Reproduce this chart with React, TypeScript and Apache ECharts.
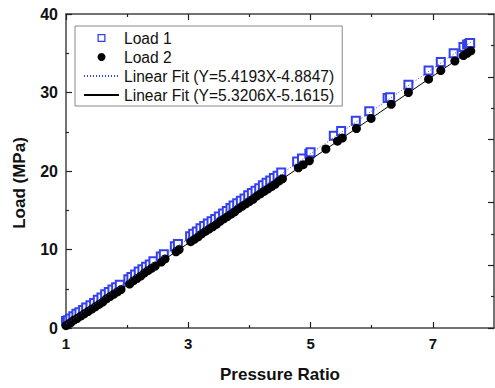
import React, { useEffect, useRef } from "react";
import * as echarts from "echarts";

const load1X = [1.00,1.03,1.07,1.12,1.17,1.22,1.28,1.33,1.40,1.46,1.52,1.58,1.64,1.70,1.76,1.82,1.88,2.02,2.07,2.13,2.19,2.25,2.31,2.37,2.43,2.55,2.60,2.78,2.83,3.03,3.08,3.14,3.20,3.26,3.32,3.38,3.44,3.50,3.57,3.63,3.69,3.74,3.80,3.86,3.92,3.98,4.04,4.10,4.16,4.22,4.28,4.34,4.40,4.46,4.52,4.78,4.86,4.98,5.00,5.38,5.50,5.74,5.96,6.26,6.30,6.60,6.93,7.13,7.34,7.50,7.56,7.59,7.61];
const load1Y = [0.9,1.0,1.2,1.5,1.8,2.0,2.3,2.6,2.9,3.2,3.6,3.9,4.3,4.6,4.9,5.2,5.5,6.2,6.5,6.8,7.2,7.5,7.8,8.1,8.5,9.1,9.4,10.4,10.7,11.7,12.0,12.3,12.7,13.0,13.3,13.6,13.9,14.2,14.6,14.9,15.3,15.6,15.9,16.2,16.5,16.9,17.2,17.5,17.8,18.2,18.5,18.8,19.1,19.4,19.8,21.2,21.6,22.2,22.4,24.5,25.1,26.4,27.6,29.3,29.4,31.0,32.8,33.9,35.0,35.8,36.1,36.2,36.3];

const load2X = [1.00,1.04,1.08,1.13,1.18,1.24,1.30,1.36,1.42,1.48,1.54,1.60,1.66,1.72,1.78,1.84,1.90,2.04,2.10,2.16,2.22,2.28,2.34,2.40,2.46,2.56,2.62,2.80,2.85,3.04,3.10,3.16,3.22,3.28,3.34,3.40,3.46,3.52,3.58,3.64,3.70,3.76,3.82,3.88,3.94,4.00,4.06,4.12,4.18,4.24,4.30,4.36,4.42,4.48,4.54,4.80,4.88,4.98,5.25,5.44,5.52,5.75,5.99,6.32,6.60,6.93,7.13,7.36,7.50,7.56,7.62];
const load2Y = [0.3,0.5,0.7,1.0,1.2,1.5,1.8,2.1,2.4,2.7,3.0,3.3,3.7,4.0,4.3,4.6,4.9,5.6,6.0,6.3,6.6,7.0,7.3,7.6,7.9,8.4,8.8,9.7,10.0,11.0,11.3,11.6,12.0,12.3,12.6,12.9,13.2,13.6,13.9,14.2,14.5,14.8,15.2,15.5,15.8,16.1,16.4,16.8,17.1,17.4,17.7,18.0,18.3,18.7,19.0,20.4,20.8,21.3,22.8,23.8,24.2,25.4,26.7,28.5,30.0,31.7,32.8,34.0,34.7,35.0,35.3];

// Linear fits: [slope, intercept]
const fit1 = [5.4193, -4.8847];
const fit2 = [5.3206, -5.1615];
const fitRange = [1.0, 7.62];

const seriesNames = ["Load 1", "Load 2", "Linear Fit (Y=5.4193X-4.8847)", "Linear Fit (Y=5.3206X-5.1615)"];
const xLabelValues = [1, 3, 5, 7];
const xMinorValues = [2, 4, 6];

const BLUE = "#3340ee";
const AXIS_COLOR = "#444";
const FONT = "'Liberation Sans', Arial, sans-serif";

export default function App() {
  const ref = useRef<HTMLDivElement>(null);
  useEffect(() => {
    if (!ref.current) return;
    const chart = echarts.init(ref.current, null, { renderer: "svg" });
    const pts = (xs: number[], ys: number[]) => xs.map((x, i) => [x, ys[i]]);
    const line = (f: number[]) => fitRange.map((x) => [x, f[0] * x + f[1]]);
    const baseX = { type: "value", min: 1, max: 8, interval: 1, gridIndex: 0, splitLine: { show: false } };
    const tickStyle = { color: "#222", width: 1.2 };
    chart.setOption({
      animation: false,
      textStyle: { fontFamily: FONT },
      grid: { left: 66, right: 1, top: 14, bottom: 58, containLabel: false },
      legend: {
        left: 75,
        top: 26,
        orient: "vertical",
        padding: [4, 8, 3, 8],
        itemGap: 3,
        itemWidth: 35,
        itemHeight: 8,
        borderColor: "#888",
        borderWidth: 1,
        textStyle: { fontSize: 15.6, color: "#111", fontFamily: FONT, lineHeight: 16 },
        data: [
          { name: seriesNames[0], icon: "path://M0,0H10V10H0ZM1.6,1.6V8.4H8.4V1.6Z", itemStyle: { color: BLUE, borderWidth: 0, opacity: 1 } },
          { name: seriesNames[1], icon: "circle", itemStyle: { color: "#000", borderWidth: 0, opacity: 1 } },
          { name: seriesNames[2], itemStyle: { color: "rgba(0,0,0,0)", borderWidth: 0, opacity: 0 } },
          { name: seriesNames[3], itemStyle: { color: "rgba(0,0,0,0)", borderWidth: 0, opacity: 0 } },
        ],
      },
      xAxis: [
        {
          ...baseX,
          position: "bottom",
          name: "Pressure Ratio",
          nameLocation: "middle",
          nameGap: 38,
          nameTextStyle: { fontSize: 17, fontWeight: "bold", color: "#111", fontFamily: FONT },
          axisLine: { show: true, lineStyle: { color: AXIS_COLOR, width: 1.5 } },
          axisTick: { show: true, inside: true, length: 6, customValues: xLabelValues, lineStyle: tickStyle },
          axisLabel: { show: true, customValues: xLabelValues, margin: 8, fontSize: 15, fontWeight: "bold", color: "#111", fontFamily: FONT },
        },
        {
          ...baseX,
          position: "bottom",
          axisLine: { show: false },
          axisTick: { show: true, inside: true, length: 3, customValues: xMinorValues, lineStyle: tickStyle },
          axisLabel: { show: false },
        },
        {
          ...baseX,
          position: "top",
          axisLine: { show: true, lineStyle: { color: AXIS_COLOR, width: 1.5 } },
          axisTick: { show: true, inside: true, length: 6, customValues: xLabelValues, lineStyle: tickStyle },
          axisLabel: { show: false },
        },
        {
          ...baseX,
          position: "top",
          axisLine: { show: false },
          axisTick: { show: true, inside: true, length: 3, customValues: xMinorValues, lineStyle: tickStyle },
          axisLabel: { show: false },
        },
      ],
      yAxis: [
        {
          type: "value",
          position: "left",
          min: 0,
          max: 40,
          interval: 10,
          name: "Load (MPa)",
          nameLocation: "middle",
          nameGap: 38,
          nameTextStyle: { fontSize: 17, fontWeight: "bold", color: "#111", fontFamily: FONT, padding: [0, 24, 0, 0] },
          splitLine: { show: false },
          axisLine: { show: true, lineStyle: { color: AXIS_COLOR, width: 1.5 } },
          axisTick: { show: true, inside: true, length: 6, lineStyle: tickStyle },
          minorTick: { show: true, splitNumber: 2, length: 3, lineStyle: tickStyle },
          axisLabel: { margin: 8, fontSize: 16, fontWeight: "bold", color: "#111", fontFamily: FONT },
        },
        {
          type: "value",
          position: "right",
          min: 0,
          max: 40,
          interval: 8,
          splitLine: { show: false },
          axisLine: { show: true, lineStyle: { color: AXIS_COLOR, width: 1.5 } },
          axisTick: { show: true, inside: true, length: 6, lineStyle: tickStyle },
          minorTick: { show: true, splitNumber: 2, length: 3, lineStyle: tickStyle },
          axisLabel: { show: false },
        },
      ],
      series: [
        {
          name: seriesNames[0],
          type: "scatter",
          data: pts(load1X, load1Y),
          symbol: "emptyRect",
          symbolSize: 8,
          itemStyle: { color: BLUE, borderColor: BLUE, borderWidth: 1, opacity: 1 },
          z: 3,
        },
        {
          name: seriesNames[1],
          type: "scatter",
          data: pts(load2X, load2Y),
          symbol: "circle",
          symbolSize: 9,
          itemStyle: { color: "#000", opacity: 1 },
          z: 4,
        },
        {
          name: seriesNames[2],
          type: "line",
          data: line(fit1),
          showSymbol: false,
          symbol: "none",
          lineStyle: { color: BLUE, width: 1, type: [1, 2] },
          itemStyle: { color: BLUE },
          z: 5,
        },
        {
          name: seriesNames[3],
          type: "line",
          data: line(fit2),
          showSymbol: false,
          symbol: "none",
          lineStyle: { color: "#000", width: 1 },
          itemStyle: { color: "#000" },
          z: 5,
        },
      ],
    });
    return () => chart.dispose();
  }, []);
  return <div ref={ref} style={{ width: 495, height: 388, position: "absolute", left: 0, top: 0 }} />;
}
